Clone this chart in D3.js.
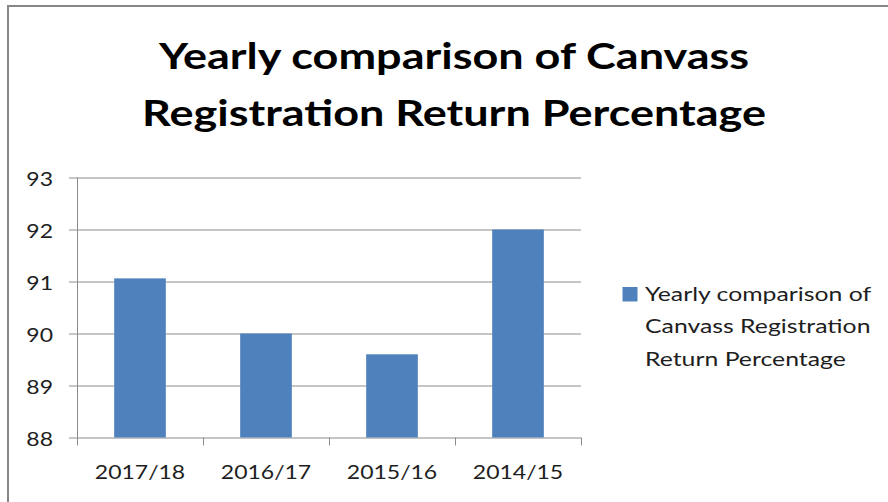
<!DOCTYPE html>
<html>
<head>
<meta charset="utf-8">
<script src="https://cdnjs.cloudflare.com/ajax/libs/d3/7.8.5/d3.min.js"></script>
<style>
  body { margin: 0; background: #fff; }
  svg { display: block; font-family: Lato, "Open Sans", sans-serif; }
</style>
</head>
<body>
<div id="chart"></div>
<script>
// chart data
var years = ["2017/18", "2016/17", "2015/16", "2014/15"];
var returnPct = [91.06, 90.0, 89.6, 92.0];
var yTicks = [88, 89, 90, 91, 92, 93];
var titleLines = ["Yearly comparison of Canvass", "Registration Return Percentage"];
var legendLines = ["Yearly comparison of", "Canvass Registration", "Return Percentage"];

var svgWidth = 888;
var svgHeight = 502;

var margin = { top: 177.5, right: 307, bottom: 64.5, left: 77 };
var width = svgWidth - margin.left - margin.right;
var height = svgHeight - margin.top - margin.bottom;

// the original text is wider than Lato, so stretch it a little
var titleStretch = 1.25;
var tickStretch = 1.15;
var legendStretch = 1.24;

var svg = d3.select("#chart")
    .append("svg")
    .attr("width", svgWidth)
    .attr("height", svgHeight);

// outer frame (only top and left edges visible in the crop)
svg.append("path")
    .attr("d", "M8," + svgHeight + "V6H" + svgWidth)
    .attr("fill", "none")
    .attr("stroke", "#878787")
    .attr("stroke-width", 2);

// title
svg.append("g").selectAll("text")
    .data(titleLines)
    .enter()
    .append("text")
    .attr("transform", (d, i) => `translate(454, ${69 + i * 57}) scale(${titleStretch}, 1)`)
    .attr("text-anchor", "middle")
    .style("font-size", "36px")
    .style("font-weight", "bold")
    .style("fill", "#000")
    .text(d => d);

var chartGroup = svg.append("g")
    .attr("transform", `translate(${margin.left}, ${margin.top})`);

var xScale = d3.scaleBand()
    .domain(years)
    .range([0, width])
    .paddingInner(0.59)
    .paddingOuter(0.295);

var xBand = d3.scaleBand().domain(years).range([0, width]);

var yScale = d3.scaleLinear()
    .domain([88, 93])
    .range([height, 0]);

// gridlines
chartGroup.append("g")
    .selectAll("line")
    .data(yTicks)
    .enter()
    .append("line")
    .attr("x1", -8)
    .attr("x2", width)
    .attr("y1", d => Math.round(yScale(d)) + 0.5)
    .attr("y2", d => Math.round(yScale(d)) + 0.5)
    .attr("stroke", "#8c8c8c")
    .attr("stroke-width", 1);

// bars
chartGroup.selectAll("rect")
    .data(returnPct)
    .enter()
    .append("rect")
    .attr("x", (d, i) => xScale(years[i]))
    .attr("width", xScale.bandwidth())
    .attr("y", d => yScale(d))
    .attr("height", d => height - yScale(d))
    .attr("fill", "#4f81bd");

// y axis
var leftAxis = d3.axisLeft(yScale).tickValues(yTicks).tickFormat(d3.format("d")).tickSize(0);
var yAxis = chartGroup.append("g").call(leftAxis);
yAxis.select(".domain").remove();
yAxis.selectAll("text")
    .attr("x", -24 / tickStretch)
    .attr("dy", "0.42em")
    .attr("transform", `scale(${tickStretch}, 1)`)
    .style("font-size", "20px")
    .style("font-family", "Lato, sans-serif")
    .attr("fill", "#1e1e1e");

chartGroup.append("line")
    .attr("x1", 0.5).attr("x2", 0.5)
    .attr("y1", 0).attr("y2", height + 8)
    .attr("stroke", "#8c8c8c");

// x axis
var bottomAxis = d3.axisBottom(xBand).tickSize(0).tickPadding(27.5);
var xAxis = chartGroup.append("g")
    .attr("transform", `translate(0, ${height})`)
    .call(bottomAxis);
xAxis.select(".domain").remove();
xAxis.selectAll("text")
    .attr("transform", `scale(${tickStretch}, 1)`)
    .style("font-size", "20px")
    .style("font-family", "Lato, sans-serif")
    .attr("fill", "#1e1e1e");

// x tick marks between categories
chartGroup.append("g")
    .selectAll("line")
    .data(years)
    .enter()
    .append("line")
    .attr("x1", d => Math.round(xBand(d) + xBand.bandwidth()) + 0.5)
    .attr("x2", d => Math.round(xBand(d) + xBand.bandwidth()) + 0.5)
    .attr("y1", height)
    .attr("y2", height + 8)
    .attr("stroke", "#8c8c8c");

// legend
var legend = svg.append("g").attr("transform", "translate(622.5, 287)");
legend.append("rect")
    .attr("width", 15)
    .attr("height", 14.5)
    .attr("fill", "#4f81bd");
legend.selectAll("text")
    .data(legendLines)
    .enter()
    .append("text")
    .attr("transform", (d, i) => `translate(22.5, ${13.7 + i * 32.7}) scale(${legendStretch}, 1)`)
    .style("font-size", "20px")
    .attr("fill", "#1e1e1e")
    .text(d => d);
</script>
</body>
</html>
